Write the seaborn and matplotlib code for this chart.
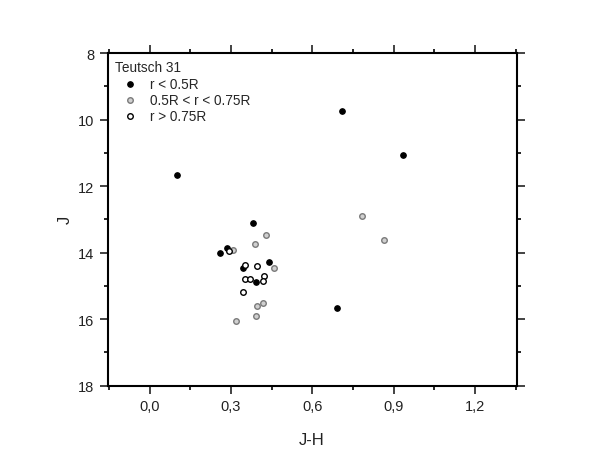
import matplotlib
matplotlib.use("Agg")
import matplotlib.pyplot as plt
import matplotlib.ticker as mticker
import seaborn as sns
import pandas as pd

# r < 0.5R
inner_jh = [0.708, 0.934, 0.103, 0.380, 0.258, 0.284, 0.439, 0.344, 0.392, 0.693]
inner_j = [9.74, 11.07, 11.67, 13.11, 14.02, 13.87, 14.29, 14.47, 14.89, 15.67]
# 0.5R < r < 0.75R
mid_jh = [0.783, 0.864, 0.431, 0.388, 0.460, 0.397, 0.417, 0.394, 0.318, 0.307]
mid_j = [12.89, 13.61, 13.47, 13.75, 14.47, 15.61, 15.51, 15.90, 16.05, 13.91]
# r > 0.75R
outer_jh = [0.293, 0.353, 0.396, 0.422, 0.417, 0.352, 0.369, 0.343]
outer_j = [13.94, 14.36, 14.41, 14.69, 14.86, 14.80, 14.80, 15.17]

labels = ["r < 0.5R", "0.5R < r < 0.75R", "r > 0.75R"]
x_ticks = [0.0, 0.3, 0.6, 0.9, 1.2]
y_ticks = [8, 10, 12, 14, 16, 18]

sns.set_style("white")
plt.rcParams['font.family'] = ['Liberation Sans', 'DejaVu Sans']

fig = plt.figure(figsize=(5.99, 4.64), dpi=100)
ax = fig.add_axes([0.1795, 0.1666, 0.6831, 0.717])

df_in = pd.DataFrame({"JH": inner_jh, "J": inner_j})
df_mid = pd.DataFrame({"JH": mid_jh, "J": mid_j})
df_out = pd.DataFrame({"JH": outer_jh, "J": outer_j})

sns.scatterplot(data=df_in, x="JH", y="J", ax=ax, s=16, color="black",
                edgecolor="black", linewidth=0.8, label=labels[0], zorder=3)
sns.scatterplot(data=df_mid, x="JH", y="J", ax=ax, s=16, color="#d0d0d0",
                edgecolor="#7a7a7a", linewidth=1.0, label=labels[1], zorder=3)
sns.scatterplot(data=df_out, x="JH", y="J", ax=ax, s=16, color="white",
                edgecolor="black", linewidth=1.0, label=labels[2], zorder=3)

ax.set_xlim(-0.155, 1.354)
ax.set_ylim(18, 8)
ax.set_xticks(x_ticks)
ax.set_yticks(y_ticks)
ax.xaxis.set_minor_locator(mticker.MultipleLocator(0.15))
ax.yaxis.set_minor_locator(mticker.MultipleLocator(1))
ax.xaxis.set_major_formatter(mticker.FuncFormatter(lambda v, p: f"{v:.1f}".replace(".", ",")))

ax.tick_params(which="both", direction="out", top=True, right=True,
               bottom=True, left=True, labeltop=False, labelright=False,
               color="black", width=1.2)
ax.tick_params(which="major", length=6, labelsize=10.5, colors="#222222")
ax.tick_params(which="minor", length=3)
for sp in ax.spines.values():
    sp.set_visible(True)
    sp.set_color("black")
    sp.set_linewidth(1.5)

ax.set_xlabel("J-H", fontsize=12, color="#222222", labelpad=14)
ax.set_ylabel("J", fontsize=12, color="#222222", labelpad=4)

leg = ax.legend(title="Teutsch 31", loc="upper left", frameon=False,
                fontsize=9.8, title_fontsize=9.8, handletextpad=0.4,
                borderaxespad=0.2, labelspacing=0.15, markerscale=1.0,
                handlelength=2.2, borderpad=0.35)
leg._legend_box.align = "left"

fig.savefig("out.png", dpi=100)
